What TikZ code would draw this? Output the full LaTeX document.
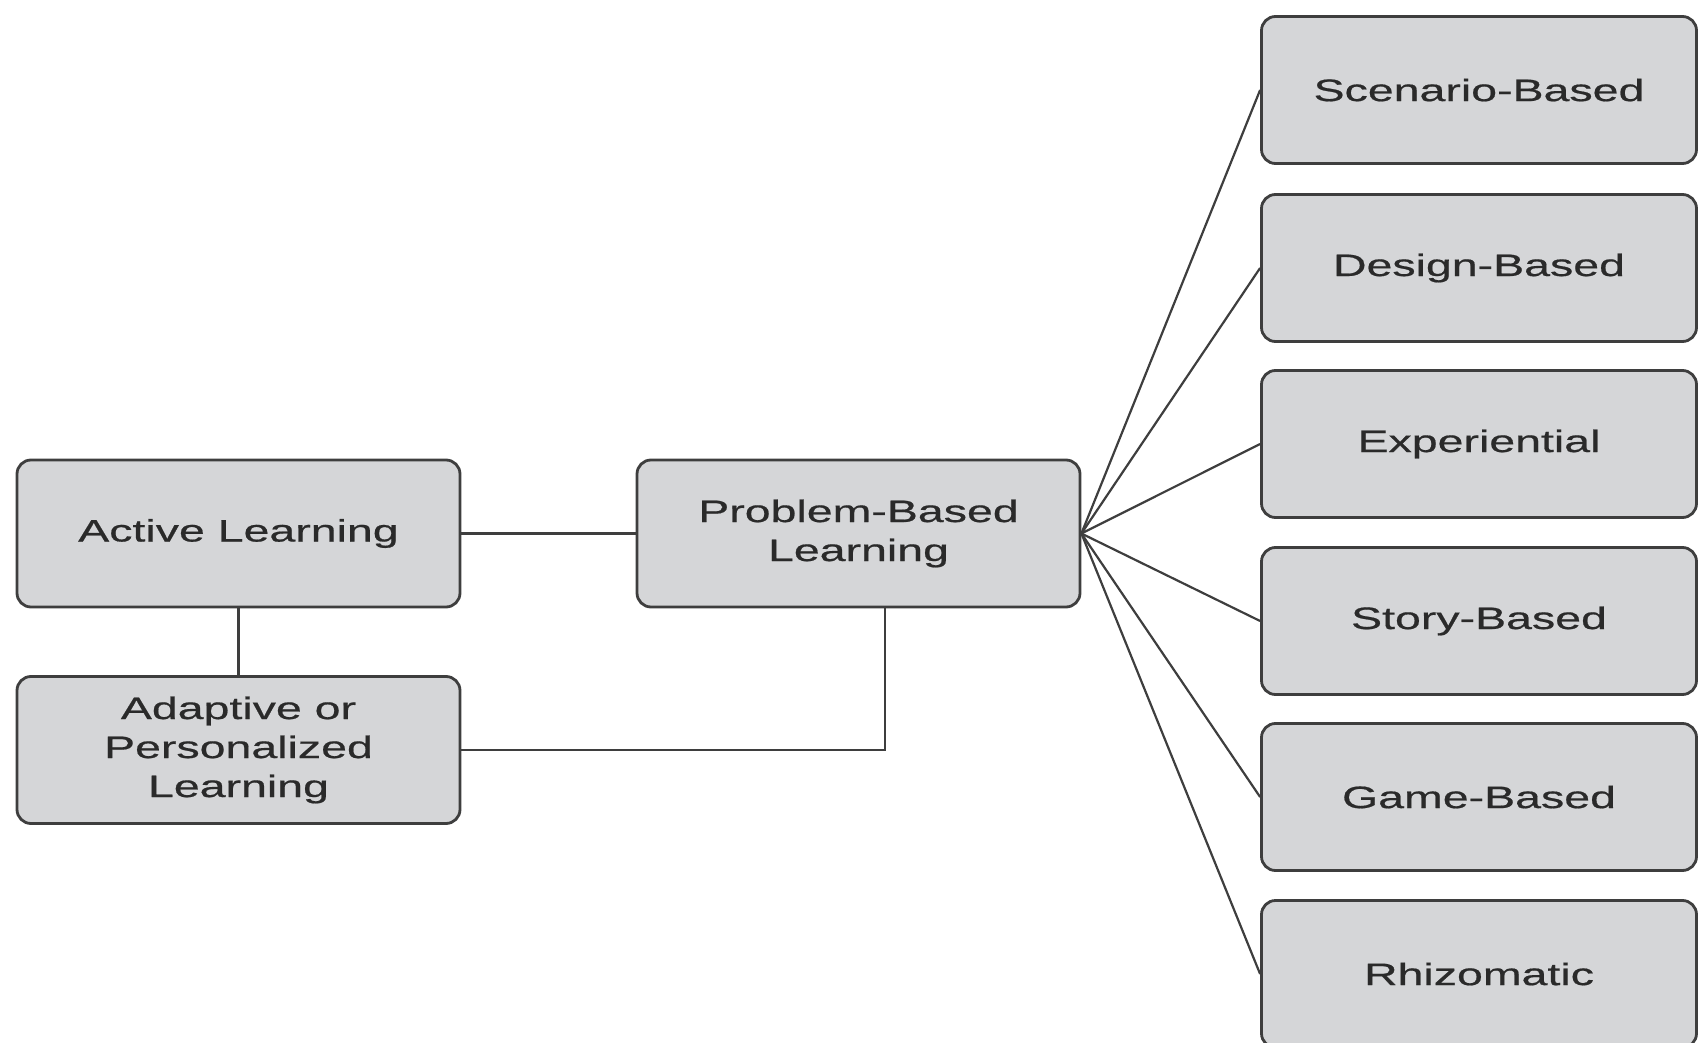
\documentclass[tikz,border=0pt]{standalone}
\usepackage{fontspec}
\setmainfont[FakeStretch=1.5]{Liberation Sans}
\definecolor{boxfill}{HTML}{D5D6D8}
\definecolor{boxline}{HTML}{3E3E3E}
\definecolor{txt}{HTML}{2A2A2A}
\begin{document}
\begin{tikzpicture}[x=0.5pt,y=-0.5pt,
  box/.style={draw=boxline, line width=1.4pt, fill=boxfill, rounded corners=7pt,
    minimum width=221.5pt, minimum height=73.5pt, align=center, text=txt,
    font=\fontsize{15.5}{19.5}\selectfont\addfontfeature{FakeBold=0.6}, inner sep=0pt},
  rbox/.style={box, minimum width=217.5pt},
  link/.style={draw=boxline, line width=1.1pt}]
\useasboundingbox (0,0) rectangle (1698,1043);
\clip (0,0) rectangle (1698,1043);
\node[box] (al) at (238.5,533.5) {Active Learning};
\node[box] (ad) at (238.5,750) {Adaptive or\\Personalized\\Learning};
\node[box] (pbl) at (858.5,533.5) {Problem-Based\\Learning};
\node[rbox] (s1) at (1479,90) {Scenario-Based};
\node[rbox] (s2) at (1479,268) {Design-Based};
\node[rbox] (s3) at (1479,444) {Experiential};
\node[rbox] (s4) at (1479,621) {Story-Based};
\node[rbox] (s5) at (1479,797) {Game-Based};
\node[rbox] (s6) at (1479,974) {Rhizomatic};
\draw[link] (al.east) -- (pbl.west);
\draw[link] (al.south) -- (ad.north);
\draw[link] (ad.east) -| ([xshift=13.25pt]pbl.south);
\foreach \n in {s1,s2,s3,s4,s5,s6}
  \draw[link] (pbl.east) -- (\n.west);
\end{tikzpicture}
\end{document}
